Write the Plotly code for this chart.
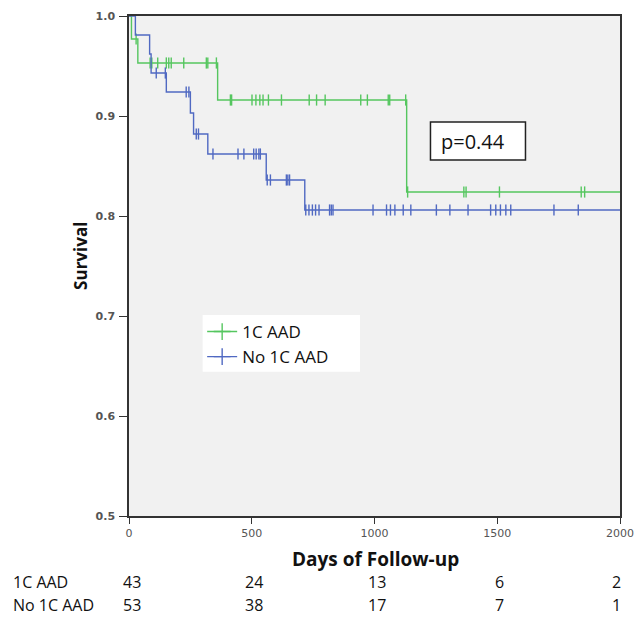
import plotly.graph_objects as go

# ---------------- data ----------------
x_end = 2000

# 1C AAD group: event (drop) times and survival after each drop
g_event_days = [0, 10, 36, 361, 1131]
g_surv = [1.0, 0.977, 0.953, 0.916, 0.824]
# censor marks (day, survival level)
g_cens_days = [29,
               86, 93, 117, 152, 162, 172, 223, 315, 321, 356,
               413, 418, 501, 517, 533, 546, 568, 621, 734, 764, 799, 944, 971, 1056, 1062, 1127,
               1135, 1364, 1373, 1509, 1842, 1856]
g_cens_surv = [0.977] + [0.953] * 10 + [0.916] * 16 + [0.824] * 6

# No 1C AAD group
b_event_days = [0, 26, 84, 90, 152, 250, 263, 321, 559, 716]
b_surv = [1.0, 0.981, 0.962, 0.943, 0.924, 0.903, 0.882, 0.862, 0.836, 0.806]
b_cens_days = [111, 148,
               233, 244,
               274, 283,
               342, 444, 468, 508, 518, 529, 535,
               563, 576, 641, 647, 654,
               720, 733, 747, 760, 774, 817, 824, 831, 994, 1049, 1065, 1083, 1117, 1148,
               1252, 1307, 1381, 1473, 1494, 1513, 1535, 1555, 1731, 1830]
b_cens_surv = ([0.943] * 2 + [0.924] * 2 + [0.882] * 2 + [0.862] * 7 +
               [0.836] * 5 + [0.806] * 24)

group_names = ["1C AAD", "No 1C AAD"]
risk_days = [0, 500, 1000, 1500, 2000]
risk_g = [43, 24, 13, 6, 2]
risk_b = [53, 38, 17, 7, 1]
p_text = "p=0.44"

y_ticks = [0.5, 0.6, 0.7, 0.8, 0.9, 1.0]
x_ticks = [0, 500, 1000, 1500, 2000]

GREEN = "#55c65f"
BLUE = "#5069c2"

fig = go.Figure()

for days, surv, cd, cs, col, name in [
    (g_event_days, g_surv, g_cens_days, g_cens_surv, GREEN, group_names[0]),
    (b_event_days, b_surv, b_cens_days, b_cens_surv, BLUE, group_names[1]),
]:
    fig.add_trace(go.Scatter(
        x=days + [x_end], y=surv + [surv[-1]], mode="lines",
        line=dict(color=col, width=1.4, shape="hv"),
        showlegend=False, hoverinfo="skip", cliponaxis=False))
    fig.add_trace(go.Scatter(
        x=cd, y=cs, mode="markers",
        marker=dict(symbol="line-ns", size=8, line=dict(color=col, width=1.4)),
        showlegend=False, hoverinfo="skip"))
    fig.add_trace(go.Scatter(
        x=[None], y=[None], mode="lines+markers", name=name,
        line=dict(color=col, width=1.4),
        marker=dict(symbol="cross-thin", size=12, line=dict(color=col, width=1.4))))

fig.update_layout(
    width=638, height=617,
    margin=dict(l=129, r=18, t=16, b=101, autoexpand=False),
    paper_bgcolor="white", plot_bgcolor="#f1f1f1",
    font=dict(family="Open Sans", color="#111"),
    legend=dict(x=0.149, y=0.404, xanchor="left", yanchor="top",
                bgcolor="rgba(255,255,255,0)",
                font=dict(size=17, family="Open Sans", color="#111"),
                itemwidth=30, tracegroupgap=0, borderwidth=0),
)
fig.update_xaxes(range=[0, 2000], tickvals=x_ticks, ticks="outside", ticklen=6,
                 tickcolor="#333", showgrid=False, zeroline=False, automargin=False,
                 showline=True, linecolor="#333", linewidth=1.5, mirror=True,
                 tickfont=dict(family="DejaVu Sans", size=11, color="#555"))
fig.update_yaxes(range=[0.5, 1.0], tickvals=y_ticks, ticktext=[f"{v:.1f}" for v in y_ticks],
                 ticks="outside", ticklen=8, tickcolor="#333", automargin=False,
                 showgrid=False, zeroline=False, ticklabelstandoff=2,
                 showline=True, linecolor="#333", linewidth=1.5, mirror=True,
                 tickfont=dict(family="DejaVu Sans", size=11, color="#555", weight="bold"))

# white legend panel
fig.add_shape(type="rect", xref="paper", yref="paper", x0=0.150, x1=0.4705,
              y0=0.2886, y1=0.402, line=dict(width=0), fillcolor="white", layer="below")

# axis titles
fig.add_annotation(text="<b>Survival</b>", textangle=-90, xref="paper", yref="paper",
                   x=-0.10, y=0.52, showarrow=False, xanchor="center", yanchor="middle",
                   font=dict(size=17, family="Open Sans", color="#111"))
fig.add_annotation(text="<b>Days of Follow-up</b>", xref="paper", yref="paper",
                   x=0.503, y=-0.085, showarrow=False, xanchor="center", yanchor="middle",
                   font=dict(size=19, family="Open Sans", color="#111"))

# p value box
fig.add_shape(type="rect", x0=1228, x1=1615, y0=0.856, y1=0.894,
              line=dict(color="#222", width=1.5), fillcolor="white", layer="above")
fig.add_annotation(text=p_text, x=1262, y=0.875, xanchor="left", yanchor="middle",
                   showarrow=False, font=dict(size=20, family="Open Sans", color="#111"))

# number at risk table
for row, (lab, vals) in enumerate([(group_names[0], risk_g), (group_names[1], risk_b)]):
    ypix = 582 + row * 23
    yp = (617 - 101 - ypix) / (617 - 16 - 101)
    fig.add_annotation(text=lab, xref="paper", yref="paper", x=-0.241, y=yp,
                       xanchor="left", yanchor="middle", showarrow=False,
                       font=dict(size=16, family="Open Sans", color="#111"))
    for d, v in zip(risk_days, vals):
        fig.add_annotation(text=str(v), xref="x", yref="paper", x=d, y=yp,
                           xanchor="center", yanchor="middle", showarrow=False,
                           xshift=3 if d == 0 else (-4 if d == 2000 else 2),
                           font=dict(size=16, family="Open Sans", color="#111"))

fig.write_html("out.html", config={"displayModeBar": False},
               post_script="document.body.style.margin='0';document.body.style.overflow='hidden';")
